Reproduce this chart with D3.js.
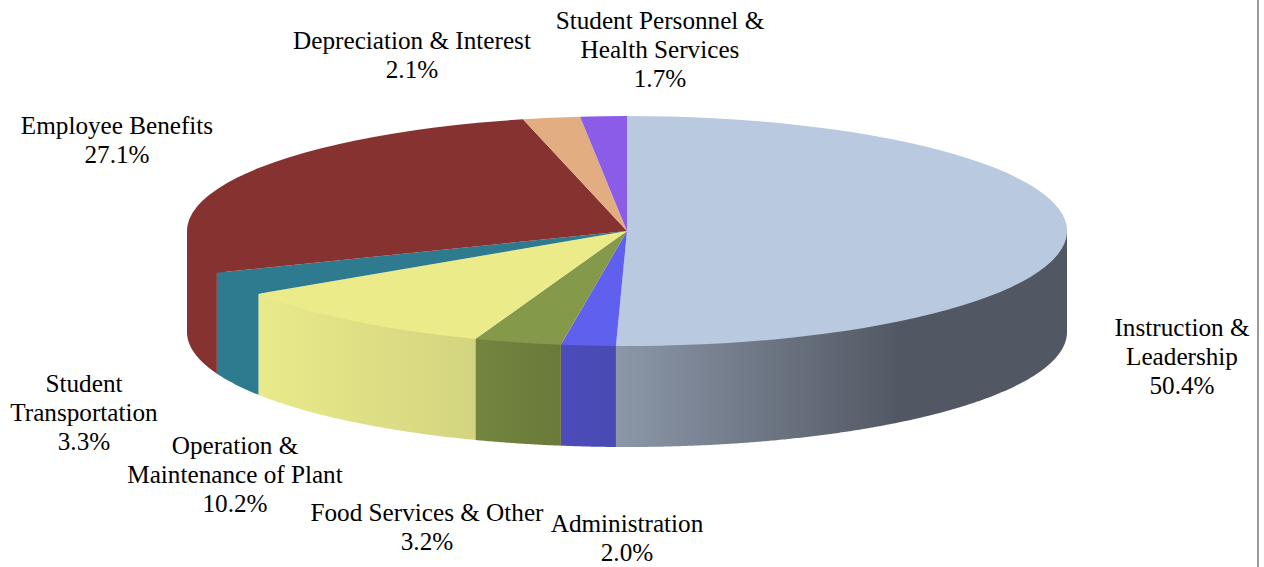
<!DOCTYPE html>
<html>
<head>
<meta charset="utf-8">
<script src="https://cdn.jsdelivr.net/npm/d3@7"></script>
<style>
    html, body {margin: 0; padding: 0; background: #fff;}
    svg {display: block;}
    .slice-label {font-family: "Liberation Serif", serif; font-size: 25.2px; fill: #000; text-anchor: middle;}
</style>
</head>
<body>
<svg id="chart" width="1264" height="567"></svg>
<script>
/* ---------- Data ---------- */
const categories = [
    "Instruction & Leadership", "Administration", "Food Services & Other",
    "Operation & Maintenance of Plant", "Student Transportation", "Employee Benefits",
    "Depreciation & Interest", "Student Personnel & Health Services"
];
const shares = [50.4, 2.0, 3.2, 10.2, 3.3, 27.1, 2.1, 1.7];
const shareLabels = ["50.4%", "2.0%", "3.2%", "10.2%", "3.3%", "27.1%", "2.1%", "1.7%"];
const labelLines = [
    ["Instruction &", "Leadership"], ["Administration"], ["Food Services & Other"],
    ["Operation &", "Maintenance of Plant"], ["Student", "Transportation"], ["Employee Benefits"],
    ["Depreciation & Interest"], ["Student Personnel &", "Health Services"]
];
const topColours = ["#b8c9e0", "#6060ee", "#85994a", "#ebeb8a", "#2e7a8f", "#853230", "#e3ad82", "#8b5ce8"];
// left and right ends of the shading on the rim
const rimStart = ["#8c97a9", "#4c4cba", "#74853f", "#e9ea8a", "#2e7a8f", "#853230", "#e3ad82", "#8b5ce8"];
const rimEnd = ["#525863", "#4a4ab4", "#6a7a3a", "#d3d47f", "#2e7a8f", "#853230", "#e3ad82", "#8b5ce8"];
const labelX = [1182, 627, 427, 235, 84, 117, 412, 660];
const labelY = [336, 532, 521, 454, 392, 134, 49, 29];

/* ---------- Layout ---------- */
const cx = 627, cy = 231, rx = 440, ry = 115, depth = 101;
const lineHeight = 29;

const svg = d3.select("#chart");
const defs = svg.append("defs");

const pie = d3.pie().sort(null).value(d => d);
const slices = pie(shares);

// right hand border of the page
svg.append("rect").attr("x", 1257).attr("y", 0).attr("width", 2).attr("height", 567)
    .attr("fill", "#9a9a9a");

/* ---------- Rim ---------- */
const px = a => cx + rx * Math.sin(a);
const py = a => cy - ry * Math.cos(a);
const clip = [Math.PI / 2, 3 * Math.PI / 2];

// top edge is pulled in a little so it hides under the top face and leaves no seam
function rimPath(a0, a1) {
    const angles = d3.range(a0, a1, 0.005).concat(a1);
    const inner = angles.map(a => [cx + (px(a) - cx) * 0.98, cy + (py(a) - cy) * 0.98]);
    const bottom = angles.map(a => [px(a), py(a) + depth]).reverse();
    return d3.line()([[px(a0), py(a0)], ...inner, [px(a1), py(a1)], ...bottom]) + "Z";
}

const rim = svg.append("g").attr("class", "rim");
slices.forEach((s, i) => {
    const a0 = Math.max(s.startAngle, clip[0]);
    const a1 = Math.min(s.endAngle, clip[1]);
    if (a1 <= a0) return;
    const x0 = Math.min(px(a0), px(a1));
    const x1 = Math.max(px(a0), px(a1));
    const grad = defs.append("linearGradient").attr("id", `rim-${i}`)
        .attr("gradientUnits", "userSpaceOnUse")
        .attr("x1", x0).attr("x2", i === 0 ? 900 : x1).attr("y1", 0).attr("y2", 0);
    grad.append("stop").attr("offset", 0).attr("stop-color", rimStart[i]);
    grad.append("stop").attr("offset", 1).attr("stop-color", rimEnd[i]);
    rim.append("path").attr("d", rimPath(a0, a1)).attr("fill", `url(#rim-${i})`);
});

/* ---------- Top face ---------- */
// radius 100 then scaled down, d3.path rounds to 3 digits and radius 1 loses the shape
const arc = d3.arc().innerRadius(0).outerRadius(100);
svg.append("g").attr("class", "top")
    .attr("transform", `translate(${cx},${cy}) scale(${rx / 100},${ry / 100})`)
    .selectAll("path")
    .data(slices)
    .join("path")
    .attr("d", arc)
    .attr("fill", (d, i) => topColours[i]);

/* ---------- Labels ---------- */
categories.forEach((name, i) => {
    const t = svg.append("text").attr("class", "slice-label").attr("x", labelX[i]).attr("y", labelY[i]);
    labelLines[i].concat(shareLabels[i]).forEach((line, j) => {
        t.append("tspan").attr("x", labelX[i]).attr("dy", j ? lineHeight : 0).text(line);
    });
});
</script>
</body>
</html>
